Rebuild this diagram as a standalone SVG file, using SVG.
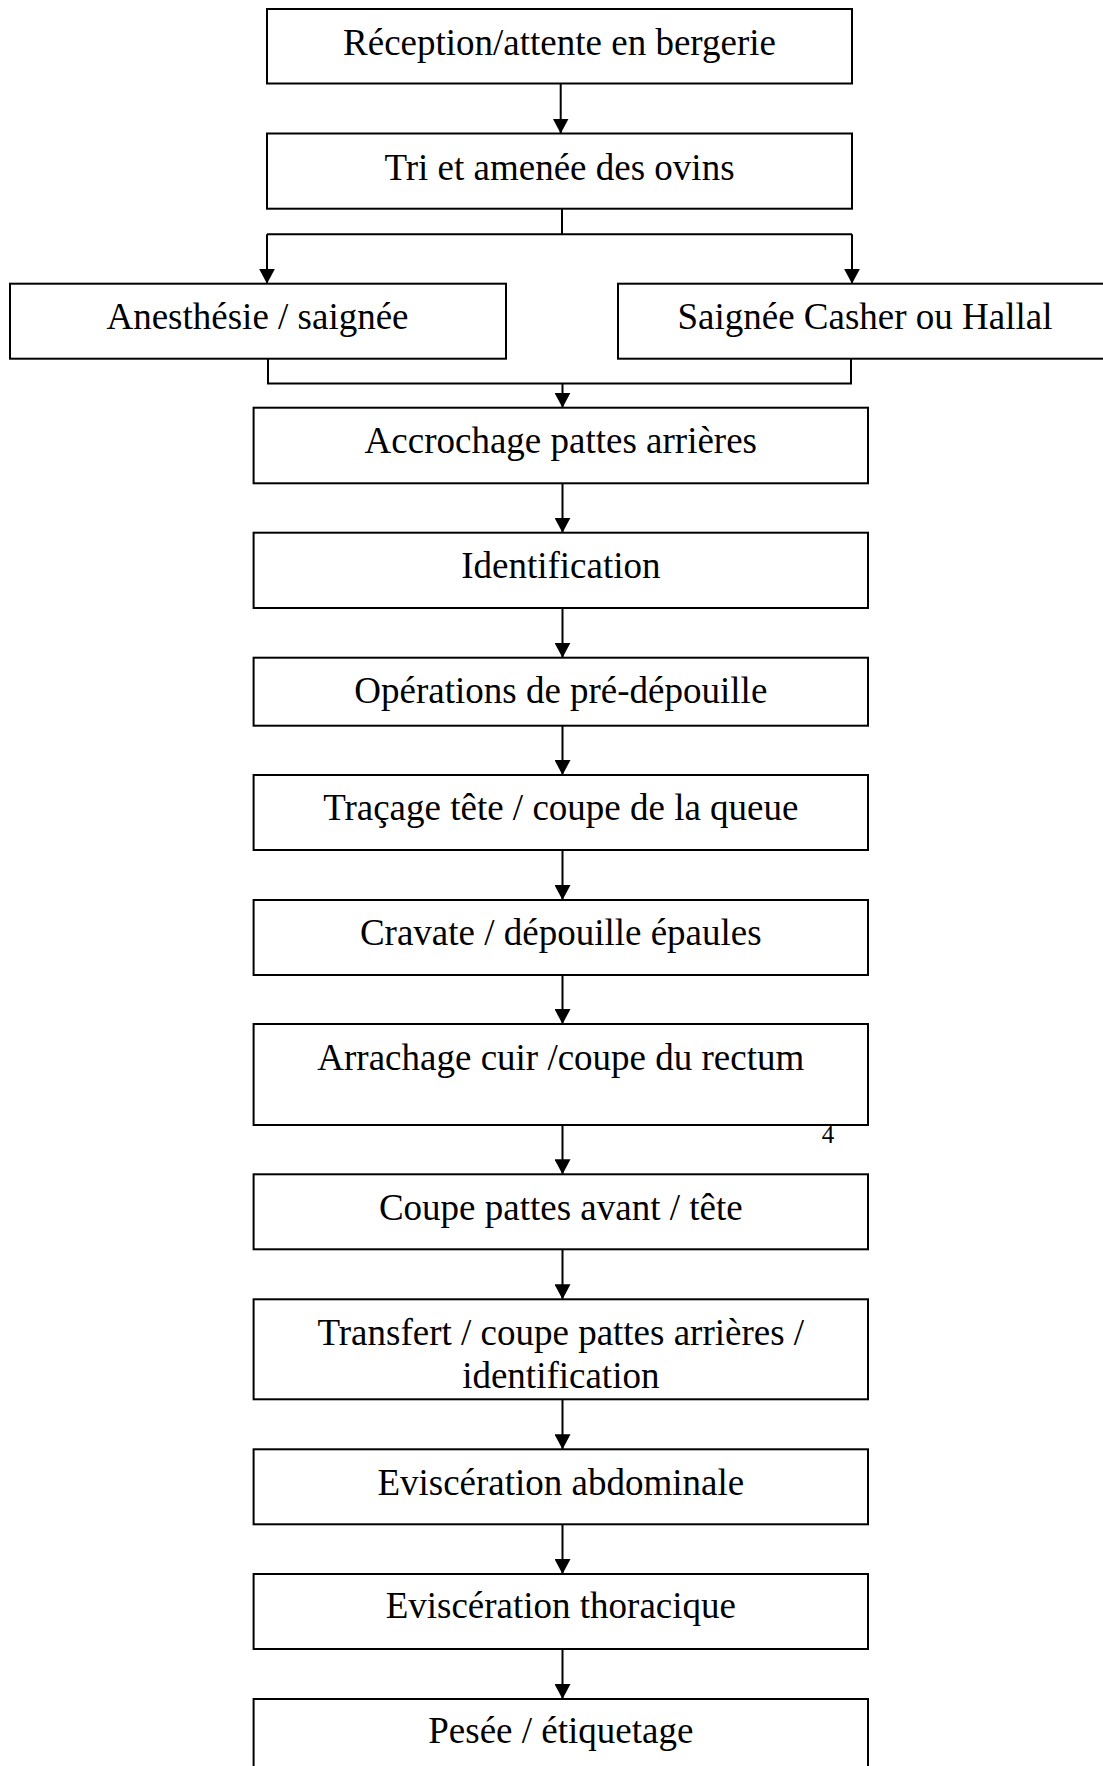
<svg xmlns="http://www.w3.org/2000/svg" width="1103" height="1766" viewBox="0 0 1103 1766">
<style>
.box{fill:#fff;stroke:#000;stroke-width:2}
.lbl{font-family:"Liberation Serif","Times New Roman",serif;font-size:37px;fill:#000;text-anchor:middle}
.con{fill:none;stroke:#000;stroke-width:2}
.arr{fill:none;stroke:#000;stroke-width:2;marker-end:url(#ah)}
</style>
<defs>
<marker id="ah" markerUnits="userSpaceOnUse" markerWidth="15" markerHeight="16" refX="15" refY="8" orient="auto" viewBox="0 0 15 16">
<path d="M0,0 L15,8 L0,16 z" fill="#000"/>
</marker>
</defs>
<rect width="1103" height="1766" fill="#fff"/>
<g id="connectors">
<line class="arr" x1="560.7" y1="84" x2="560.7" y2="133.5"/>
<polyline class="con" points="562,208.7 562,234.3"/>
<polyline class="con" points="267,234.3 852,234.3"/>
<line class="arr" x1="267" y1="234.3" x2="267" y2="283.7"/>
<line class="arr" x1="852" y1="234.3" x2="852" y2="283.7"/>
<polyline class="con" points="268,358.7 268,383.5 851,383.5 851,358.7"/>
<line class="arr" x1="562.5" y1="383.5" x2="562.5" y2="407.7"/>
<line class="arr" x1="562.5" y1="483.3" x2="562.5" y2="532.7"/>
<line class="arr" x1="562.5" y1="608" x2="562.5" y2="657.7"/>
<line class="arr" x1="562.5" y1="725.7" x2="562.5" y2="775"/>
<line class="arr" x1="562.5" y1="850" x2="562.5" y2="900"/>
<line class="arr" x1="562.5" y1="975" x2="562.5" y2="1024"/>
<line class="arr" x1="562.5" y1="1125" x2="562.5" y2="1174.3"/>
<line class="arr" x1="562.5" y1="1249.3" x2="562.5" y2="1299.3"/>
<line class="arr" x1="562.5" y1="1399.3" x2="562.5" y2="1449.3"/>
<line class="arr" x1="562.5" y1="1524.3" x2="562.5" y2="1574"/>
<line class="arr" x1="562.5" y1="1649" x2="562.5" y2="1699"/>
</g>
<g id="n1"><rect class="box" x="267" y="9" width="585" height="74.5"/><text class="lbl" x="559.5" y="55">Réception/attente en bergerie</text></g>
<g id="n2"><rect class="box" x="267" y="133.5" width="585" height="75.2"/><text class="lbl" x="559.5" y="180">Tri et amenée des ovins</text></g>
<g id="n3a"><rect class="box" x="10" y="283.7" width="496" height="75"/><text class="lbl" x="257.5" y="328.5">Anesthésie / saignée</text></g>
<g id="n3b"><rect class="box" x="618" y="283.7" width="494" height="75"/><text class="lbl" x="865" y="328.5">Saignée Casher ou Hallal</text></g>
<g id="n4"><rect class="box" x="253.6" y="407.7" width="614.4" height="75.6"/><text class="lbl" x="560.8" y="453.3">Accrochage pattes arrières</text></g>
<g id="n5"><rect class="box" x="253.6" y="532.7" width="614.4" height="75.3"/><text class="lbl" x="560.8" y="578.3">Identification</text></g>
<g id="n6"><rect class="box" x="253.6" y="657.7" width="614.4" height="68"/><text class="lbl" x="560.8" y="703.3">Opérations de pré-dépouille</text></g>
<g id="n7"><rect class="box" x="253.6" y="775" width="614.4" height="75"/><text class="lbl" x="560.8" y="820">Traçage tête / coupe de la queue</text></g>
<g id="n8"><rect class="box" x="253.6" y="900" width="614.4" height="75"/><text class="lbl" x="560.8" y="945">Cravate / dépouille épaules</text></g>
<g id="n9"><rect class="box" x="253.6" y="1024" width="614.4" height="101"/><text class="lbl" x="560.8" y="1070">Arrachage cuir /coupe du rectum</text></g>
<text x="828" y="1143.3" font-family="'Liberation Serif','Times New Roman',serif" font-size="25" text-anchor="middle" fill="#000">4</text>
<g id="n10"><rect class="box" x="253.6" y="1174.3" width="614.4" height="75"/><text class="lbl" x="560.8" y="1220">Coupe pattes avant / tête</text></g>
<g id="n11"><rect class="box" x="253.6" y="1299.3" width="614.4" height="100"/><text class="lbl" x="560.8" y="1345">Transfert / coupe pattes arrières /</text><text class="lbl" x="560.8" y="1388.3">identification</text></g>
<g id="n12"><rect class="box" x="253.6" y="1449.3" width="614.4" height="75"/><text class="lbl" x="560.8" y="1495">Eviscération abdominale</text></g>
<g id="n13"><rect class="box" x="253.6" y="1574" width="614.4" height="75"/><text class="lbl" x="560.8" y="1618.3">Eviscération thoracique</text></g>
<g id="n14"><rect class="box" x="253.6" y="1699" width="614.4" height="80"/><text class="lbl" x="560.8" y="1743.3">Pesée / étiquetage</text></g>
</svg>
